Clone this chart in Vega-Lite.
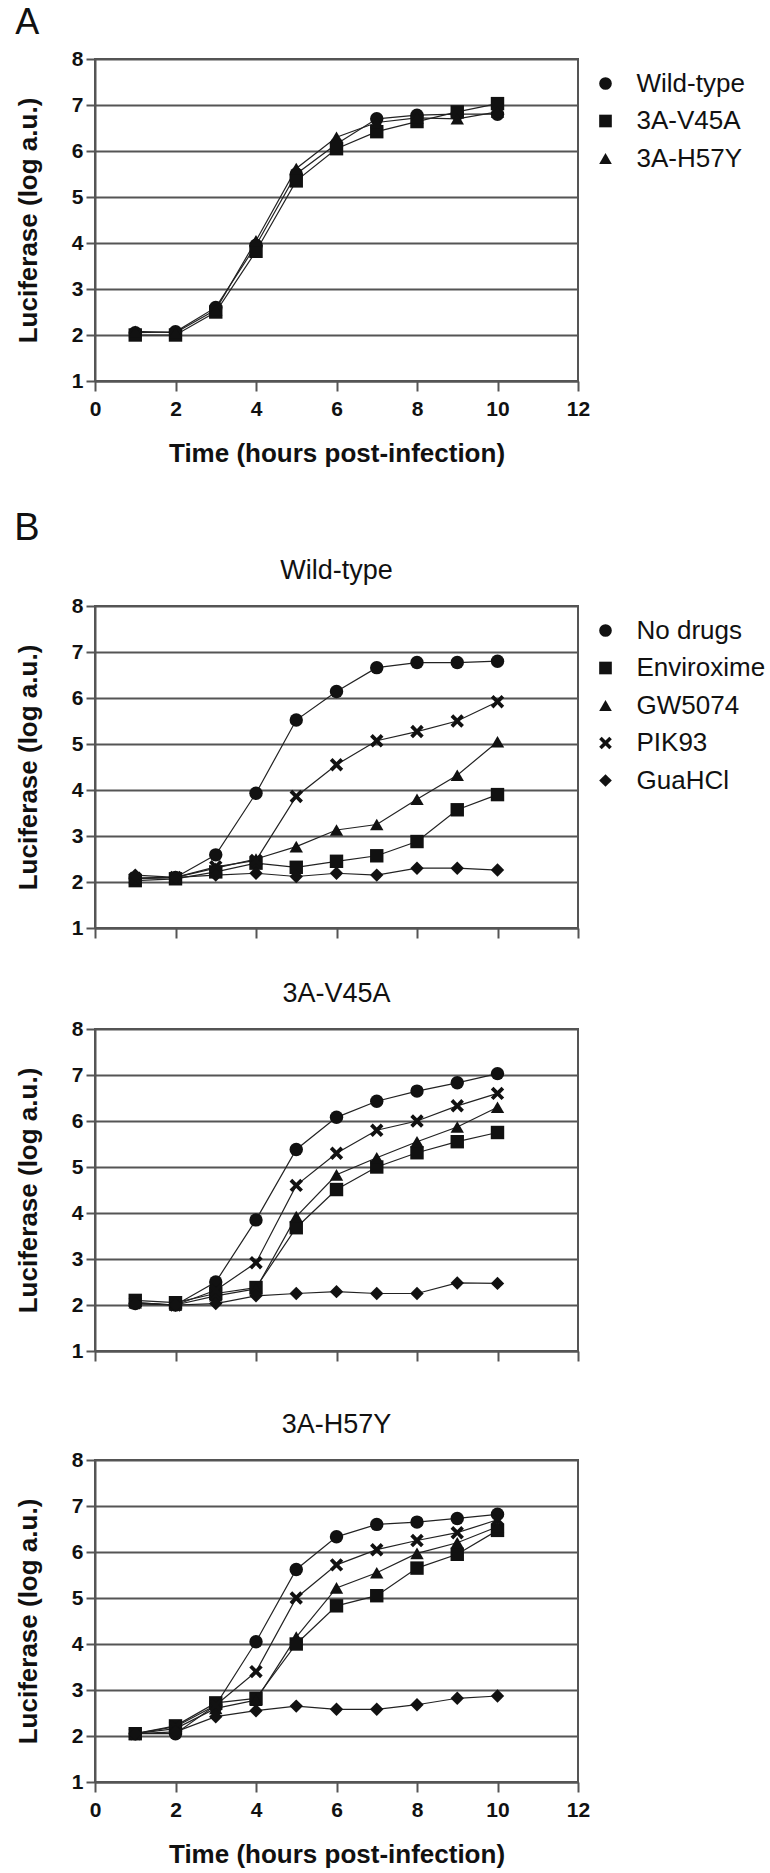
{
  "$schema": "https://vega.github.io/schema/vega-lite/v6.json",
  "padding": {"left": 14, "top": 4, "right": 0, "bottom": 0},
  "background": "white",
  "config": {
    "font": "Liberation Sans",
    "view": {"stroke": "#555555", "strokeWidth": 2},
    "axis": {
      "labelFont": "Liberation Sans", "labelFontWeight": "bold", "labelFontSize": 21, "labelColor": "#111111", "labelFlush": false,
      "titleFont": "Liberation Sans", "titleFontWeight": "bold", "titleFontSize": 26, "titleColor": "#111111",
      "domainColor": "#555555", "domainWidth": 2, "tickColor": "#555555", "tickWidth": 2,
      "gridColor": "#555555", "gridWidth": 2, "gridOpacity": 1
    },
    "legend": {
      "labelFont": "Liberation Sans", "labelFontSize": 26, "labelColor": "#111111", "labelLimit": 300,
      "symbolSize": 160, "symbolFillColor": "#111111", "symbolStrokeWidth": 0, "symbolOpacity": 1,
      "rowPadding": 11.5, "labelOffset": 18, "offset": 3, "padding": 11.5
    },
    "title": {"font": "Liberation Sans", "fontSize": 27, "fontWeight": "normal", "color": "#111111", "offset": 10}
  },
  "datasets": {
    "a": [
      {"strain": "Wild-type", "t": 1, "v": 2.05}, {"strain": "Wild-type", "t": 2, "v": 2.07}, {"strain": "Wild-type", "t": 3, "v": 2.6}, {"strain": "Wild-type", "t": 4, "v": 3.95}, {"strain": "Wild-type", "t": 5, "v": 5.5}, {"strain": "Wild-type", "t": 6, "v": 6.15}, {"strain": "Wild-type", "t": 7, "v": 6.7}, {"strain": "Wild-type", "t": 8, "v": 6.78}, {"strain": "Wild-type", "t": 9, "v": 6.8}, {"strain": "Wild-type", "t": 10, "v": 6.8},
      {"strain": "3A-V45A", "t": 1, "v": 2.0}, {"strain": "3A-V45A", "t": 2, "v": 2.0}, {"strain": "3A-V45A", "t": 3, "v": 2.5}, {"strain": "3A-V45A", "t": 4, "v": 3.82}, {"strain": "3A-V45A", "t": 5, "v": 5.35}, {"strain": "3A-V45A", "t": 6, "v": 6.05}, {"strain": "3A-V45A", "t": 7, "v": 6.42}, {"strain": "3A-V45A", "t": 8, "v": 6.64}, {"strain": "3A-V45A", "t": 9, "v": 6.85}, {"strain": "3A-V45A", "t": 10, "v": 7.03},
      {"strain": "3A-H57Y", "t": 1, "v": 2.08}, {"strain": "3A-H57Y", "t": 2, "v": 2.05}, {"strain": "3A-H57Y", "t": 3, "v": 2.55}, {"strain": "3A-H57Y", "t": 4, "v": 4.05}, {"strain": "3A-H57Y", "t": 5, "v": 5.62}, {"strain": "3A-H57Y", "t": 6, "v": 6.3}, {"strain": "3A-H57Y", "t": 7, "v": 6.62}, {"strain": "3A-H57Y", "t": 8, "v": 6.72}, {"strain": "3A-H57Y", "t": 9, "v": 6.7}, {"strain": "3A-H57Y", "t": 10, "v": 6.85}
    ],
    "b": [
      {"panel": "Wild-type", "drug": "No drugs", "t": 1, "v": 2.08}, {"panel": "Wild-type", "drug": "No drugs", "t": 2, "v": 2.1}, {"panel": "Wild-type", "drug": "No drugs", "t": 3, "v": 2.59}, {"panel": "Wild-type", "drug": "No drugs", "t": 4, "v": 3.93}, {"panel": "Wild-type", "drug": "No drugs", "t": 5, "v": 5.52}, {"panel": "Wild-type", "drug": "No drugs", "t": 6, "v": 6.14}, {"panel": "Wild-type", "drug": "No drugs", "t": 7, "v": 6.66}, {"panel": "Wild-type", "drug": "No drugs", "t": 8, "v": 6.77}, {"panel": "Wild-type", "drug": "No drugs", "t": 9, "v": 6.77}, {"panel": "Wild-type", "drug": "No drugs", "t": 10, "v": 6.8},
      {"panel": "Wild-type", "drug": "Enviroxime", "t": 1, "v": 2.03}, {"panel": "Wild-type", "drug": "Enviroxime", "t": 2, "v": 2.07}, {"panel": "Wild-type", "drug": "Enviroxime", "t": 3, "v": 2.22}, {"panel": "Wild-type", "drug": "Enviroxime", "t": 4, "v": 2.41}, {"panel": "Wild-type", "drug": "Enviroxime", "t": 5, "v": 2.32}, {"panel": "Wild-type", "drug": "Enviroxime", "t": 6, "v": 2.45}, {"panel": "Wild-type", "drug": "Enviroxime", "t": 7, "v": 2.57}, {"panel": "Wild-type", "drug": "Enviroxime", "t": 8, "v": 2.88}, {"panel": "Wild-type", "drug": "Enviroxime", "t": 9, "v": 3.57}, {"panel": "Wild-type", "drug": "Enviroxime", "t": 10, "v": 3.9},
      {"panel": "Wild-type", "drug": "GW5074", "t": 1, "v": 2.08}, {"panel": "Wild-type", "drug": "GW5074", "t": 2, "v": 2.1}, {"panel": "Wild-type", "drug": "GW5074", "t": 3, "v": 2.3}, {"panel": "Wild-type", "drug": "GW5074", "t": 4, "v": 2.5}, {"panel": "Wild-type", "drug": "GW5074", "t": 5, "v": 2.77}, {"panel": "Wild-type", "drug": "GW5074", "t": 6, "v": 3.13}, {"panel": "Wild-type", "drug": "GW5074", "t": 7, "v": 3.25}, {"panel": "Wild-type", "drug": "GW5074", "t": 8, "v": 3.8}, {"panel": "Wild-type", "drug": "GW5074", "t": 9, "v": 4.32}, {"panel": "Wild-type", "drug": "GW5074", "t": 10, "v": 5.05},
      {"panel": "Wild-type", "drug": "PIK93", "t": 1, "v": 2.08}, {"panel": "Wild-type", "drug": "PIK93", "t": 2, "v": 2.1}, {"panel": "Wild-type", "drug": "PIK93", "t": 3, "v": 2.33}, {"panel": "Wild-type", "drug": "PIK93", "t": 4, "v": 2.47}, {"panel": "Wild-type", "drug": "PIK93", "t": 5, "v": 3.86}, {"panel": "Wild-type", "drug": "PIK93", "t": 6, "v": 4.55}, {"panel": "Wild-type", "drug": "PIK93", "t": 7, "v": 5.07}, {"panel": "Wild-type", "drug": "PIK93", "t": 8, "v": 5.27}, {"panel": "Wild-type", "drug": "PIK93", "t": 9, "v": 5.5}, {"panel": "Wild-type", "drug": "PIK93", "t": 10, "v": 5.92},
      {"panel": "Wild-type", "drug": "GuaHCl", "t": 1, "v": 2.15}, {"panel": "Wild-type", "drug": "GuaHCl", "t": 2, "v": 2.1}, {"panel": "Wild-type", "drug": "GuaHCl", "t": 3, "v": 2.15}, {"panel": "Wild-type", "drug": "GuaHCl", "t": 4, "v": 2.19}, {"panel": "Wild-type", "drug": "GuaHCl", "t": 5, "v": 2.12}, {"panel": "Wild-type", "drug": "GuaHCl", "t": 6, "v": 2.19}, {"panel": "Wild-type", "drug": "GuaHCl", "t": 7, "v": 2.15}, {"panel": "Wild-type", "drug": "GuaHCl", "t": 8, "v": 2.3}, {"panel": "Wild-type", "drug": "GuaHCl", "t": 9, "v": 2.3}, {"panel": "Wild-type", "drug": "GuaHCl", "t": 10, "v": 2.26},
      {"panel": "3A-V45A", "drug": "No drugs", "t": 1, "v": 2.03}, {"panel": "3A-V45A", "drug": "No drugs", "t": 2, "v": 2.0}, {"panel": "3A-V45A", "drug": "No drugs", "t": 3, "v": 2.5}, {"panel": "3A-V45A", "drug": "No drugs", "t": 4, "v": 3.85}, {"panel": "3A-V45A", "drug": "No drugs", "t": 5, "v": 5.38}, {"panel": "3A-V45A", "drug": "No drugs", "t": 6, "v": 6.08}, {"panel": "3A-V45A", "drug": "No drugs", "t": 7, "v": 6.43}, {"panel": "3A-V45A", "drug": "No drugs", "t": 8, "v": 6.65}, {"panel": "3A-V45A", "drug": "No drugs", "t": 9, "v": 6.83}, {"panel": "3A-V45A", "drug": "No drugs", "t": 10, "v": 7.03},
      {"panel": "3A-V45A", "drug": "Enviroxime", "t": 1, "v": 2.1}, {"panel": "3A-V45A", "drug": "Enviroxime", "t": 2, "v": 2.05}, {"panel": "3A-V45A", "drug": "Enviroxime", "t": 3, "v": 2.25}, {"panel": "3A-V45A", "drug": "Enviroxime", "t": 4, "v": 2.38}, {"panel": "3A-V45A", "drug": "Enviroxime", "t": 5, "v": 3.68}, {"panel": "3A-V45A", "drug": "Enviroxime", "t": 6, "v": 4.51}, {"panel": "3A-V45A", "drug": "Enviroxime", "t": 7, "v": 5.0}, {"panel": "3A-V45A", "drug": "Enviroxime", "t": 8, "v": 5.31}, {"panel": "3A-V45A", "drug": "Enviroxime", "t": 9, "v": 5.55}, {"panel": "3A-V45A", "drug": "Enviroxime", "t": 10, "v": 5.75},
      {"panel": "3A-V45A", "drug": "GW5074", "t": 1, "v": 2.05}, {"panel": "3A-V45A", "drug": "GW5074", "t": 2, "v": 2.0}, {"panel": "3A-V45A", "drug": "GW5074", "t": 3, "v": 2.2}, {"panel": "3A-V45A", "drug": "GW5074", "t": 4, "v": 2.35}, {"panel": "3A-V45A", "drug": "GW5074", "t": 5, "v": 3.92}, {"panel": "3A-V45A", "drug": "GW5074", "t": 6, "v": 4.83}, {"panel": "3A-V45A", "drug": "GW5074", "t": 7, "v": 5.2}, {"panel": "3A-V45A", "drug": "GW5074", "t": 8, "v": 5.55}, {"panel": "3A-V45A", "drug": "GW5074", "t": 9, "v": 5.87}, {"panel": "3A-V45A", "drug": "GW5074", "t": 10, "v": 6.3},
      {"panel": "3A-V45A", "drug": "PIK93", "t": 1, "v": 2.05}, {"panel": "3A-V45A", "drug": "PIK93", "t": 2, "v": 2.0}, {"panel": "3A-V45A", "drug": "PIK93", "t": 3, "v": 2.32}, {"panel": "3A-V45A", "drug": "PIK93", "t": 4, "v": 2.92}, {"panel": "3A-V45A", "drug": "PIK93", "t": 5, "v": 4.6}, {"panel": "3A-V45A", "drug": "PIK93", "t": 6, "v": 5.3}, {"panel": "3A-V45A", "drug": "PIK93", "t": 7, "v": 5.8}, {"panel": "3A-V45A", "drug": "PIK93", "t": 8, "v": 6.0}, {"panel": "3A-V45A", "drug": "PIK93", "t": 9, "v": 6.33}, {"panel": "3A-V45A", "drug": "PIK93", "t": 10, "v": 6.6},
      {"panel": "3A-V45A", "drug": "GuaHCl", "t": 1, "v": 2.03}, {"panel": "3A-V45A", "drug": "GuaHCl", "t": 2, "v": 2.0}, {"panel": "3A-V45A", "drug": "GuaHCl", "t": 3, "v": 2.03}, {"panel": "3A-V45A", "drug": "GuaHCl", "t": 4, "v": 2.2}, {"panel": "3A-V45A", "drug": "GuaHCl", "t": 5, "v": 2.25}, {"panel": "3A-V45A", "drug": "GuaHCl", "t": 6, "v": 2.29}, {"panel": "3A-V45A", "drug": "GuaHCl", "t": 7, "v": 2.25}, {"panel": "3A-V45A", "drug": "GuaHCl", "t": 8, "v": 2.25}, {"panel": "3A-V45A", "drug": "GuaHCl", "t": 9, "v": 2.48}, {"panel": "3A-V45A", "drug": "GuaHCl", "t": 10, "v": 2.47},
      {"panel": "3A-H57Y", "drug": "No drugs", "t": 1, "v": 2.05}, {"panel": "3A-H57Y", "drug": "No drugs", "t": 2, "v": 2.05}, {"panel": "3A-H57Y", "drug": "No drugs", "t": 3, "v": 2.67}, {"panel": "3A-H57Y", "drug": "No drugs", "t": 4, "v": 4.05}, {"panel": "3A-H57Y", "drug": "No drugs", "t": 5, "v": 5.62}, {"panel": "3A-H57Y", "drug": "No drugs", "t": 6, "v": 6.33}, {"panel": "3A-H57Y", "drug": "No drugs", "t": 7, "v": 6.6}, {"panel": "3A-H57Y", "drug": "No drugs", "t": 8, "v": 6.65}, {"panel": "3A-H57Y", "drug": "No drugs", "t": 9, "v": 6.73}, {"panel": "3A-H57Y", "drug": "No drugs", "t": 10, "v": 6.82},
      {"panel": "3A-H57Y", "drug": "Enviroxime", "t": 1, "v": 2.05}, {"panel": "3A-H57Y", "drug": "Enviroxime", "t": 2, "v": 2.22}, {"panel": "3A-H57Y", "drug": "Enviroxime", "t": 3, "v": 2.72}, {"panel": "3A-H57Y", "drug": "Enviroxime", "t": 4, "v": 2.82}, {"panel": "3A-H57Y", "drug": "Enviroxime", "t": 5, "v": 4.0}, {"panel": "3A-H57Y", "drug": "Enviroxime", "t": 6, "v": 4.83}, {"panel": "3A-H57Y", "drug": "Enviroxime", "t": 7, "v": 5.05}, {"panel": "3A-H57Y", "drug": "Enviroxime", "t": 8, "v": 5.65}, {"panel": "3A-H57Y", "drug": "Enviroxime", "t": 9, "v": 5.95}, {"panel": "3A-H57Y", "drug": "Enviroxime", "t": 10, "v": 6.47},
      {"panel": "3A-H57Y", "drug": "GW5074", "t": 1, "v": 2.05}, {"panel": "3A-H57Y", "drug": "GW5074", "t": 2, "v": 2.16}, {"panel": "3A-H57Y", "drug": "GW5074", "t": 3, "v": 2.6}, {"panel": "3A-H57Y", "drug": "GW5074", "t": 4, "v": 2.78}, {"panel": "3A-H57Y", "drug": "GW5074", "t": 5, "v": 4.15}, {"panel": "3A-H57Y", "drug": "GW5074", "t": 6, "v": 5.22}, {"panel": "3A-H57Y", "drug": "GW5074", "t": 7, "v": 5.55}, {"panel": "3A-H57Y", "drug": "GW5074", "t": 8, "v": 5.97}, {"panel": "3A-H57Y", "drug": "GW5074", "t": 9, "v": 6.2}, {"panel": "3A-H57Y", "drug": "GW5074", "t": 10, "v": 6.55},
      {"panel": "3A-H57Y", "drug": "PIK93", "t": 1, "v": 2.05}, {"panel": "3A-H57Y", "drug": "PIK93", "t": 2, "v": 2.2}, {"panel": "3A-H57Y", "drug": "PIK93", "t": 3, "v": 2.67}, {"panel": "3A-H57Y", "drug": "PIK93", "t": 4, "v": 3.4}, {"panel": "3A-H57Y", "drug": "PIK93", "t": 5, "v": 5.0}, {"panel": "3A-H57Y", "drug": "PIK93", "t": 6, "v": 5.72}, {"panel": "3A-H57Y", "drug": "PIK93", "t": 7, "v": 6.05}, {"panel": "3A-H57Y", "drug": "PIK93", "t": 8, "v": 6.25}, {"panel": "3A-H57Y", "drug": "PIK93", "t": 9, "v": 6.42}, {"panel": "3A-H57Y", "drug": "PIK93", "t": 10, "v": 6.7},
      {"panel": "3A-H57Y", "drug": "GuaHCl", "t": 1, "v": 2.05}, {"panel": "3A-H57Y", "drug": "GuaHCl", "t": 2, "v": 2.09}, {"panel": "3A-H57Y", "drug": "GuaHCl", "t": 3, "v": 2.42}, {"panel": "3A-H57Y", "drug": "GuaHCl", "t": 4, "v": 2.55}, {"panel": "3A-H57Y", "drug": "GuaHCl", "t": 5, "v": 2.65}, {"panel": "3A-H57Y", "drug": "GuaHCl", "t": 6, "v": 2.58}, {"panel": "3A-H57Y", "drug": "GuaHCl", "t": 7, "v": 2.58}, {"panel": "3A-H57Y", "drug": "GuaHCl", "t": 8, "v": 2.68}, {"panel": "3A-H57Y", "drug": "GuaHCl", "t": 9, "v": 2.82}, {"panel": "3A-H57Y", "drug": "GuaHCl", "t": 10, "v": 2.87}
    ]
  },
  "spacing": 43,
  "resolve": {"scale": {"shape": "independent"}, "legend": {"shape": "independent"}},
  "vconcat": [
    {
      "width": 483, "height": 322,
      "title": {"text": "A", "anchor": "start", "frame": "bounds", "fontSize": 36, "offset": 6},
      "data": {"name": "a"},
      "encoding": {
        "x": {"field": "t", "type": "quantitative", "scale": {"domain": [0, 12], "nice": false},
              "axis": {"values": [0, 2, 4, 6, 8, 10, 12], "grid": false, "tickSize": 10, "labelPadding": 7, "titlePadding": 21, "title": "Time (hours post-infection)"}},
        "y": {"field": "v", "type": "quantitative", "scale": {"domain": [1, 8], "nice": false, "zero": false},
              "axis": {"values": [1, 2, 3, 4, 5, 6, 7, 8], "grid": true, "tickSize": 9, "labelPadding": 3, "titlePadding": 30, "title": "Luciferase (log a.u.)"}}
      },
      "layer": [
        {"mark": {"type": "line", "color": "#222222", "strokeWidth": 1.2}, "encoding": {"detail": {"field": "strain"}}},
        {"mark": {"type": "point", "filled": true, "color": "#111111", "size": 180, "opacity": 1},
         "encoding": {"shape": {"field": "strain", "type": "nominal",
           "scale": {"domain": ["Wild-type", "3A-V45A", "3A-H57Y"], "range": ["circle", "square", "triangle-up"]},
           "legend": {"title": null, "orient": "right"}}}}
      ]
    },
    {
      "title": {"text": "B", "anchor": "start", "frame": "bounds", "fontSize": 38, "offset": 8},
      "spacing": 39,
      "resolve": {"scale": {"shape": "independent"}, "legend": {"shape": "independent"}},
      "vconcat": [
        {
          "width": 483, "height": 322,
          "title": {"text": "Wild-type", "anchor": "middle", "frame": "group"},
          "data": {"name": "b"},
          "transform": [{"filter": "datum.panel === 'Wild-type'"}],
          "encoding": {
            "x": {"field": "t", "type": "quantitative", "scale": {"domain": [0, 12], "nice": false},
                  "axis": {"values": [0, 2, 4, 6, 8, 10, 12], "grid": false, "tickSize": 10, "labels": false, "title": null}},
            "y": {"field": "v", "type": "quantitative", "scale": {"domain": [1, 8], "nice": false, "zero": false},
                  "axis": {"values": [1, 2, 3, 4, 5, 6, 7, 8], "grid": true, "tickSize": 9, "labelPadding": 3, "titlePadding": 30, "title": "Luciferase (log a.u.)"}}
          },
          "layer": [
            {"mark": {"type": "line", "color": "#222222", "strokeWidth": 1.2}, "encoding": {"detail": {"field": "drug"}}},
            {"mark": {"type": "point", "filled": true, "color": "#111111", "size": 180, "opacity": 1},
             "encoding": {"shape": {"field": "drug", "type": "nominal",
               "scale": {"domain": ["No drugs", "Enviroxime", "GW5074", "PIK93", "GuaHCl"], "range": ["circle", "square", "triangle-up", "M-1,-0.6L-0.6,-1L0,-0.4L0.6,-1L1,-0.6L0.4,0L1,0.6L0.6,1L0,0.4L-0.6,1L-1,0.6L-0.4,0Z", "diamond"]},
               "legend": {"title": null, "orient": "right"}}}}
          ]
        },
        {
          "spacing": 47,
          "resolve": {"scale": {"shape": "independent"}, "legend": {"shape": "independent"}},
          "vconcat": [
            {
              "width": 483, "height": 322,
              "title": {"text": "3A-V45A", "anchor": "middle", "frame": "group"},
              "data": {"name": "b"},
              "transform": [{"filter": "datum.panel === '3A-V45A'"}],
              "encoding": {
                "x": {"field": "t", "type": "quantitative", "scale": {"domain": [0, 12], "nice": false},
                      "axis": {"values": [0, 2, 4, 6, 8, 10, 12], "grid": false, "tickSize": 10, "labels": false, "title": null}},
                "y": {"field": "v", "type": "quantitative", "scale": {"domain": [1, 8], "nice": false, "zero": false},
                      "axis": {"values": [1, 2, 3, 4, 5, 6, 7, 8], "grid": true, "tickSize": 9, "labelPadding": 3, "titlePadding": 30, "title": "Luciferase (log a.u.)"}}
              },
              "layer": [
                {"mark": {"type": "line", "color": "#222222", "strokeWidth": 1.2}, "encoding": {"detail": {"field": "drug"}}},
                {"mark": {"type": "point", "filled": true, "color": "#111111", "size": 180, "opacity": 1},
                 "encoding": {"shape": {"field": "drug", "type": "nominal",
                   "scale": {"domain": ["No drugs", "Enviroxime", "GW5074", "PIK93", "GuaHCl"], "range": ["circle", "square", "triangle-up", "M-1,-0.6L-0.6,-1L0,-0.4L0.6,-1L1,-0.6L0.4,0L1,0.6L0.6,1L0,0.4L-0.6,1L-1,0.6L-0.4,0Z", "diamond"]},
                   "legend": null}}}
              ]
            },
            {
              "width": 483, "height": 322,
              "title": {"text": "3A-H57Y", "anchor": "middle", "frame": "group"},
              "data": {"name": "b"},
              "transform": [{"filter": "datum.panel === '3A-H57Y'"}],
              "encoding": {
                "x": {"field": "t", "type": "quantitative", "scale": {"domain": [0, 12], "nice": false},
                      "axis": {"values": [0, 2, 4, 6, 8, 10, 12], "grid": false, "tickSize": 10, "labelPadding": 7, "titlePadding": 21, "title": "Time (hours post-infection)"}},
                "y": {"field": "v", "type": "quantitative", "scale": {"domain": [1, 8], "nice": false, "zero": false},
                      "axis": {"values": [1, 2, 3, 4, 5, 6, 7, 8], "grid": true, "tickSize": 9, "labelPadding": 3, "titlePadding": 30, "title": "Luciferase (log a.u.)"}}
              },
              "layer": [
                {"mark": {"type": "line", "color": "#222222", "strokeWidth": 1.2}, "encoding": {"detail": {"field": "drug"}}},
                {"mark": {"type": "point", "filled": true, "color": "#111111", "size": 180, "opacity": 1},
                 "encoding": {"shape": {"field": "drug", "type": "nominal",
                   "scale": {"domain": ["No drugs", "Enviroxime", "GW5074", "PIK93", "GuaHCl"], "range": ["circle", "square", "triangle-up", "M-1,-0.6L-0.6,-1L0,-0.4L0.6,-1L1,-0.6L0.4,0L1,0.6L0.6,1L0,0.4L-0.6,1L-1,0.6L-0.4,0Z", "diamond"]},
                   "legend": null}}}
              ]
            }
          ]
        }
      ]
    }
  ]
}
